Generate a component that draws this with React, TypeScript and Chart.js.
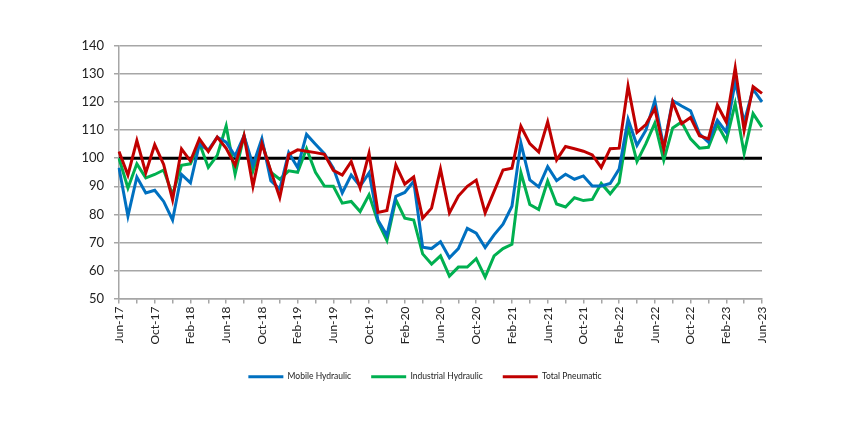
import React, { useEffect, useRef } from "react";
import { Chart, registerables } from "chart.js";

Chart.register(...registerables);

const months: string[] = [
  "Jun-17", "Jul-17", "Aug-17", "Sep-17", "Oct-17", "Nov-17", "Dec-17",
  "Jan-18", "Feb-18", "Mar-18", "Apr-18", "May-18", "Jun-18", "Jul-18", "Aug-18", "Sep-18", "Oct-18", "Nov-18", "Dec-18",
  "Jan-19", "Feb-19", "Mar-19", "Apr-19", "May-19", "Jun-19", "Jul-19", "Aug-19", "Sep-19", "Oct-19", "Nov-19", "Dec-19",
  "Jan-20", "Feb-20", "Mar-20", "Apr-20", "May-20", "Jun-20", "Jul-20", "Aug-20", "Sep-20", "Oct-20", "Nov-20", "Dec-20",
  "Jan-21", "Feb-21", "Mar-21", "Apr-21", "May-21", "Jun-21", "Jul-21", "Aug-21", "Sep-21", "Oct-21", "Nov-21", "Dec-21",
  "Jan-22", "Feb-22", "Mar-22", "Apr-22", "May-22", "Jun-22", "Jul-22", "Aug-22", "Sep-22", "Oct-22", "Nov-22", "Dec-22",
  "Jan-23", "Feb-23", "Mar-23", "Apr-23", "May-23", "Jun-23",
];

const mobileHydraulic: number[] = [
  96.6, 79.4, 93.3, 87.6, 88.6, 84.6, 78.0,
  94.2, 91.2, 105.0, 102.9, 107.5, 105.7, 100.8, 108.0, 97.5, 107.0, 92.0, 89.0,
  102.0, 96.7, 108.5, 105.0, 101.6, 96.5, 87.6, 94.0, 90.0, 94.8, 77.9, 72.5,
  86.4, 87.8, 91.8, 68.3, 67.8, 70.2, 64.5, 67.8, 75.0, 73.3, 68.2, 72.7,
  76.5, 82.9, 105.4, 92.3, 89.8, 97.0, 92.0, 94.3, 92.5, 93.7, 90.1, 90.1,
  91.0, 96.1, 113.9, 104.6, 110.0, 120.5, 103.9, 120.5, 118.6, 116.9, 108.7, 105.7,
  113.5, 109.3, 127.3, 112.9, 124.6, 120.1,
];

const industrialHydraulic: number[] = [
  100.0, 89.4, 98.0, 93.0, 94.2, 95.8, 87.0,
  97.5, 98.0, 105.4, 96.7, 101.0, 111.5, 94.3, 108.0, 95.5, 105.8, 95.0, 92.5,
  95.5, 95.0, 103.4, 95.0, 90.1, 90.0, 84.0, 84.6, 81.0, 87.0, 77.3, 70.7,
  85.2, 78.6, 78.0, 65.9, 62.3, 65.2, 58.0, 61.2, 61.2, 64.2, 57.6, 65.2,
  67.8, 69.3, 94.9, 83.5, 81.7, 91.9, 83.7, 82.6, 85.9, 84.9, 85.3, 91.0,
  87.3, 91.3, 111.2, 98.8, 105.2, 112.5, 99.3, 110.8, 112.9, 106.9, 103.6, 103.9,
  112.0, 106.3, 119.5, 101.7, 115.9, 111.1,
];

const totalPneumatic: number[] = [
  102.4, 94.0, 106.3, 94.8, 104.8, 97.8, 85.2,
  103.3, 99.0, 106.9, 102.4, 107.5, 103.5, 97.5, 108.0, 90.0, 105.2, 95.5, 86.0,
  101.3, 103.0, 102.5, 102.0, 101.4, 95.7, 94.0, 98.8, 89.4, 101.8, 80.7, 81.4,
  97.6, 90.8, 93.3, 78.6, 82.2, 96.1, 80.5, 86.5, 90.0, 92.2, 80.5, 88.2,
  95.8, 96.4, 111.4, 105.2, 102.2, 113.0, 99.4, 104.2, 103.4, 102.5, 101.2, 96.7,
  103.4, 103.6, 125.7, 109.2, 112.0, 117.7, 103.3, 120.1, 112.3, 114.5, 108.0, 106.9,
  118.9, 112.9, 132.2, 109.9, 125.5, 123.1,
];

const seriesNames = ["Mobile Hydraulic", "Industrial Hydraulic", "Total Pneumatic"];
const referenceLevel = 100;
const yMin = 50;
const yMax = 140;
const yStep = 10;

const FONT = "Lato, 'Open Sans', 'DejaVu Sans', sans-serif";
const GRID = "#a6a6a6";

const referenceLine = {
  id: "referenceLine",
  beforeDatasetsDraw(chart: any) {
    const { ctx, chartArea, scales } = chart;
    const py = scales.y.getPixelForValue(referenceLevel);
    ctx.save();
    ctx.strokeStyle = "#000000";
    ctx.lineWidth = 3;
    ctx.beginPath();
    ctx.moveTo(chartArea.left, py);
    ctx.lineTo(chartArea.right, py);
    ctx.stroke();
    ctx.restore();
  },
};

export default function App() {
  const canvasRef = useRef<HTMLCanvasElement | null>(null);

  useEffect(() => {
    if (!canvasRef.current) return;
    const chart = new Chart(canvasRef.current, {
      type: "line",
      data: {
        labels: months,
        datasets: [
          {
            label: seriesNames[0],
            data: mobileHydraulic,
            borderColor: "#0070C0",
            backgroundColor: "#0070C0",
            borderWidth: 3,
            pointRadius: 0,
            tension: 0,
            order: 1,
          },
          {
            label: seriesNames[1],
            data: industrialHydraulic,
            borderColor: "#00B050",
            backgroundColor: "#00B050",
            borderWidth: 3,
            pointRadius: 0,
            tension: 0,
            order: 2,
          },
          {
            label: seriesNames[2],
            data: totalPneumatic,
            borderColor: "#C00000",
            backgroundColor: "#C00000",
            borderWidth: 3,
            pointRadius: 0,
            tension: 0,
            order: 0,
          },
        ],
      },
      options: {
        responsive: false,
        animation: false,
        layout: { padding: { left: 6, top: 46, right: 0, bottom: 40 } },
        plugins: {
          tooltip: { enabled: false },
          legend: {
            position: "bottom",
            labels: {
              boxWidth: 35,
              boxHeight: 3,
              padding: 20,
              color: "#222222",
              font: { family: FONT, size: 8.5 },
              sort: (a: any, b: any) => a.datasetIndex - b.datasetIndex,
              generateLabels: (c: any) =>
                (Chart.defaults.plugins.legend.labels as any)
                  .generateLabels(c)
                  .map((l: any) => ({ ...l, lineWidth: 0 })),
            },
          },
        },
        scales: {
          x: {
            type: "category",
            offset: false,
            afterFit: (s: any) => {
              s.height = 54;
            },
            grid: {
              drawOnChartArea: false,
              drawTicks: true,
              tickLength: 5,
              lineWidth: 1.5,
              color: (ctx: any) => (ctx.index % 2 === 0 ? GRID : "rgba(0,0,0,0)"),
            },
            border: { color: GRID, width: 1.5 },
            ticks: {
              autoSkip: false,
              maxRotation: 90,
              minRotation: 90,
              padding: 3,
              color: "#222222",
              font: { family: FONT, size: 12 },
              callback: (_v: any, i: number) => (i % 4 === 0 ? months[i] : ""),
            },
          },
          y: {
            min: yMin,
            max: yMax,
            afterFit: (s: any) => {
              s.width = 113;
            },
            grid: {
              color: GRID,
              lineWidth: 1.5,
              tickLength: 5,
            },
            border: { color: GRID, width: 1.5 },
            ticks: {
              stepSize: yStep,
              padding: 10,
              color: "#222222",
              font: { family: FONT, size: 13 },
            },
          },
          spacer: {
            type: "linear",
            position: "right",
            display: true,
            afterFit: (s: any) => {
              s.width = 82;
            },
            grid: { display: false, drawOnChartArea: false, drawTicks: false },
            border: { display: false },
            ticks: { display: false },
          },
        },
      },
      plugins: [referenceLine],
    });
    return () => chart.destroy();
  }, []);

  return (
    <div style={{ position: "absolute", left: 0, top: 0, width: 844, height: 431, background: "#ffffff" }}>
      <canvas ref={canvasRef} width={844} height={431} />
    </div>
  );
}
